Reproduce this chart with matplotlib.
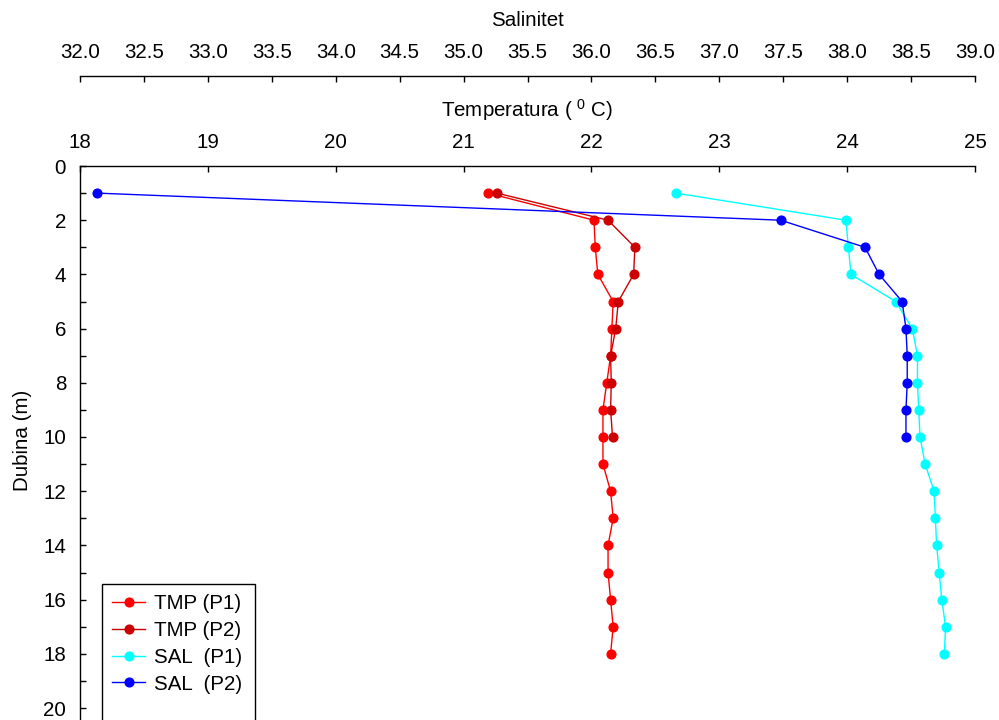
import matplotlib
matplotlib.use("Agg")
import matplotlib.pyplot as plt
from matplotlib.patches import Rectangle

# ---- Data ----
depth_p1 = [1, 2, 3, 4, 5, 6, 7, 8, 9, 10, 11, 12, 13, 14, 15, 16, 17, 18]
depth_p2 = [1, 2, 3, 4, 5, 6, 7, 8, 9, 10]

tmp_p1 = [21.19, 22.02, 22.03, 22.05, 22.17, 22.16, 22.15, 22.12, 22.09, 22.09,
          22.09, 22.15, 22.17, 22.13, 22.13, 22.15, 22.17, 22.15]
tmp_p2 = [21.26, 22.13, 22.34, 22.33, 22.21, 22.19, 22.15, 22.155, 22.15, 22.165]

sal_p1 = [36.66, 37.99, 38.01, 38.03, 38.38, 38.51, 38.55, 38.55, 38.56, 38.57,
          38.61, 38.68, 38.69, 38.70, 38.72, 38.74, 38.77, 38.76]
sal_p2 = [32.13, 37.48, 38.14, 38.25, 38.43, 38.46, 38.47, 38.47, 38.46, 38.46]

temp_ticks = [18, 19, 20, 21, 22, 23, 24, 25]
sal_ticks = [32.0, 32.5, 33.0, 33.5, 34.0, 34.5, 35.0, 35.5, 36.0, 36.5,
             37.0, 37.5, 38.0, 38.5, 39.0]
depth_ticks = [0, 2, 4, 6, 8, 10, 12, 14, 16, 18, 20]
SAL_OFFSET = 14.0  # salinity axis = temperature axis + 14

# ---- Style ----
plt.rcParams["font.family"] = ["Liberation Sans", "DejaVu Sans"]
plt.rcParams["mathtext.fontset"] = "custom"
plt.rcParams["mathtext.rm"] = "Liberation Sans"
FS = 14.8

W, H = 999, 720
fig = plt.figure(figsize=(W / 100, H / 100), dpi=100)

# axes: left 80px, right 975px, top 166px, 27.1 px per metre, ylim 0..22
ax_top, ax_left, ax_right = 166, 80, 975
px_per_m = 27.1
ymax = 22
ax_h = ymax * px_per_m
ax = fig.add_axes([ax_left / W, (H - ax_top - ax_h) / H,
                   (ax_right - ax_left) / W, ax_h / H])

# ---- Plot: salinity drawn on temperature scale (T = S - 14) ----
mk = dict(marker="o", markersize=6.3, linewidth=1.0)
ax.plot(tmp_p1, depth_p1, color="#ff0000", label="TMP (P1)", **mk)
ax.plot(tmp_p2, depth_p2, color="#cc0000", label="TMP (P2)", **mk)
ax.plot([s - SAL_OFFSET for s in sal_p1], depth_p1, color="#00ffff",
        label="SAL  (P1)", **mk)
ax.plot([s - SAL_OFFSET for s in sal_p2], depth_p2, color="#0000ff",
        label="SAL  (P2)", **mk)

ax.set_xlim(18, 25)
ax.set_ylim(ymax, 0)

ax.spines["right"].set_visible(False)
ax.spines["bottom"].set_visible(False)
for s in ("top", "left"):
    ax.spines[s].set_linewidth(1.0)

ax.xaxis.tick_top()
ax.xaxis.set_label_position("top")
ax.set_xticks(temp_ticks)
ax.tick_params(axis="x", direction="in", length=4, width=1, pad=10,
               labelsize=FS, top=True, bottom=False)
ax.set_xlabel("Temperatura ( $\\mathregular{^{0}}$ C)", fontsize=FS, labelpad=12)

ax.set_yticks(depth_ticks)
ax.set_yticks(range(1, 21, 2), minor=True)
ax.tick_params(axis="y", which="both", direction="in", length=4, width=1,
               pad=10, labelsize=FS)
ax.set_ylabel("Dubina (m)", fontsize=FS)
ax.yaxis.set_label_coords(-48 / (ax_right - ax_left), 1 - (440 - ax_top) / ax_h)

# ---- Secondary salinity axis above ----
sec = ax.secondary_xaxis(1 + 90 / ax_h,
                         functions=(lambda t: t + SAL_OFFSET, lambda s: s - SAL_OFFSET))
sec.set_xticks(sal_ticks)
sec.set_xticklabels([f"{v:.1f}" for v in sal_ticks])
sec.tick_params(axis="x", direction="in", length=4, width=1, pad=10, labelsize=FS)
sec.spines["top"].set_linewidth(1.0)
sec.set_xlabel("Salinitet", fontsize=FS, labelpad=12)

# ---- Legend (frame runs off the bottom edge) ----
leg = ax.legend(loc="upper left", bbox_to_anchor=(104 / W, 1 - 586 / H),
                bbox_transform=fig.transFigure, frameon=False, fontsize=FS,
                handlelength=1.6, handletextpad=0.45, labelspacing=0.38,
                borderaxespad=0)
fig.add_artist(Rectangle((102 / W, -0.05), (255 - 102) / W, (H - 584) / H + 0.05,
                         transform=fig.transFigure, fill=False,
                         edgecolor="black", linewidth=1.0))

plt.savefig("out.png", dpi=100)
